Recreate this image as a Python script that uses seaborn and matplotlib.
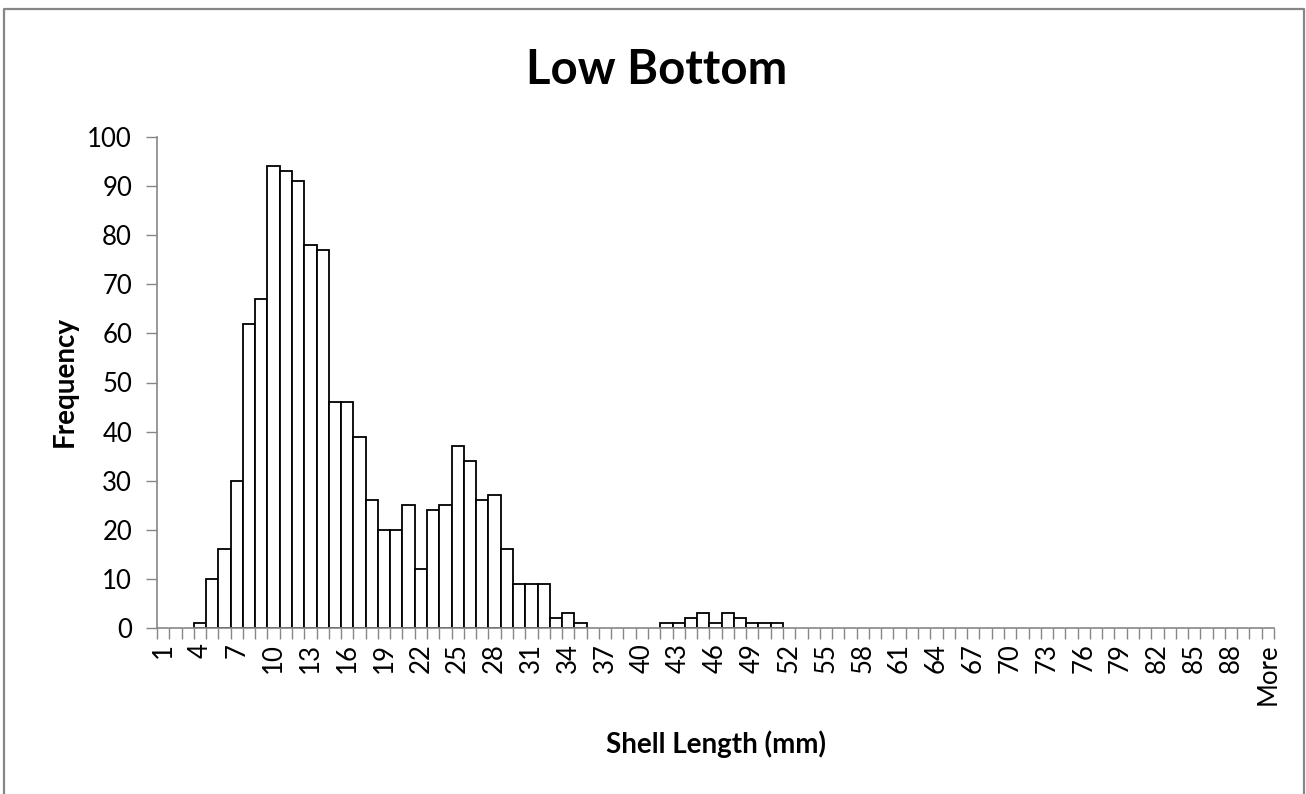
import matplotlib
matplotlib.use("Agg")
import matplotlib.pyplot as plt
from matplotlib.lines import Line2D
import numpy as np
import pandas as pd
import seaborn as sns

# ---- data ----
categories = [str(i) for i in range(1, 91)] + ["More"]
frequency = [
    0, 0, 0, 1, 10, 16, 30, 62, 67, 94,        # 1-10
    93, 91, 78, 77, 46, 46, 39, 26, 20, 20,    # 11-20
    25, 12, 24, 25, 37, 34, 26, 27, 16, 9,     # 21-30
    9, 9, 2, 3, 1, 0, 0, 0, 0, 0,              # 31-40
    0, 1, 1, 2, 3, 1, 3, 2, 1, 1,              # 41-50
    1, 0, 0, 0, 0, 0, 0, 0, 0, 0,              # 51-60
    0, 0, 0, 0, 0, 0, 0, 0, 0, 0,              # 61-70
    0, 0, 0, 0, 0, 0, 0, 0, 0, 0,              # 71-80
    0, 0, 0, 0, 0, 0, 0, 0, 0, 0,              # 81-90
    0,                                          # More
]
shown_labels = categories[::3] + ["More"] if categories[-1] != categories[::3][-1] else categories[::3]
y_ticks = list(range(0, 101, 10))
title = "Low Bottom"
x_title = "Shell Length (mm)"
y_title = "Frequency"

df = pd.DataFrame({"Shell Length": categories, "Frequency": frequency})

sns.set_theme(style="white")
plt.rcParams["font.family"] = ["Lato", "DejaVu Sans"]

W, H = 1306, 794
fig = plt.figure(figsize=(W / 100, H / 100), dpi=100)
fig.patch.set_facecolor("white")
ax = fig.add_axes([157 / W, 1 - 628 / H, (1274 - 157) / W, (628 - 137) / H])

sns.barplot(data=df, x="Shell Length", y="Frequency", order=categories,
            color="white", edgecolor="black", linewidth=1.3, width=1.0,
            saturation=1, ax=ax)

for p in ax.patches:
    if p.get_height() == 0:
        p.set_linewidth(0)

gray = "#868686"
ax.set_xlim(-0.5, len(categories) - 0.5)
ax.set_ylim(0, 100)
ax.set_yticks(y_ticks)
ax.set_yticklabels([str(v) for v in y_ticks])

# tick marks at category boundaries, labels at every third category
ax.set_xticks(np.arange(-0.5, len(categories), 1.0))
ax.set_xticklabels([])
label_pos = [categories.index(c) for c in shown_labels]
ax.set_xticks(label_pos, minor=True)
ax.set_xticklabels(shown_labels, minor=True, rotation=90)

ax.tick_params(axis="x", which="major", length=8, width=1, color=gray,
               direction="out", bottom=True)
ax.tick_params(axis="x", which="minor", length=0, pad=11, labelsize=18.5,
               labelcolor="black", bottom=True)
ax.tick_params(axis="y", which="major", length=8, width=1, color=gray,
               direction="out", left=True, pad=10, labelsize=18.5,
               labelcolor="black")

for s in ["top", "right"]:
    ax.spines[s].set_visible(False)
for s in ["left", "bottom"]:
    ax.spines[s].set_color(gray)
    ax.spines[s].set_linewidth(1.2)

ax.set_xlabel("")
ax.set_ylabel("")
ax.grid(False)

fig.text(657 / W, 1 - 84 / H, title, ha="center", va="baseline",
         fontsize=34, fontweight="bold", color="black")
fig.text(716 / W, 1 - 753 / H, x_title, ha="center", va="baseline",
         fontsize=20, fontweight="bold", color="black")
fig.text(65 / W, 1 - 382 / H, y_title, ha="center", va="center",
         rotation=90, fontsize=20, fontweight="bold", color="black")

fig.add_artist(Line2D([4 / W, 4 / W, 1304 / W, 1304 / W],
                      [0, 1 - 9 / H, 1 - 9 / H, 0],
                      transform=fig.transFigure, color=gray, lw=1.6))

fig.savefig("out.png", dpi=100, facecolor="white")
